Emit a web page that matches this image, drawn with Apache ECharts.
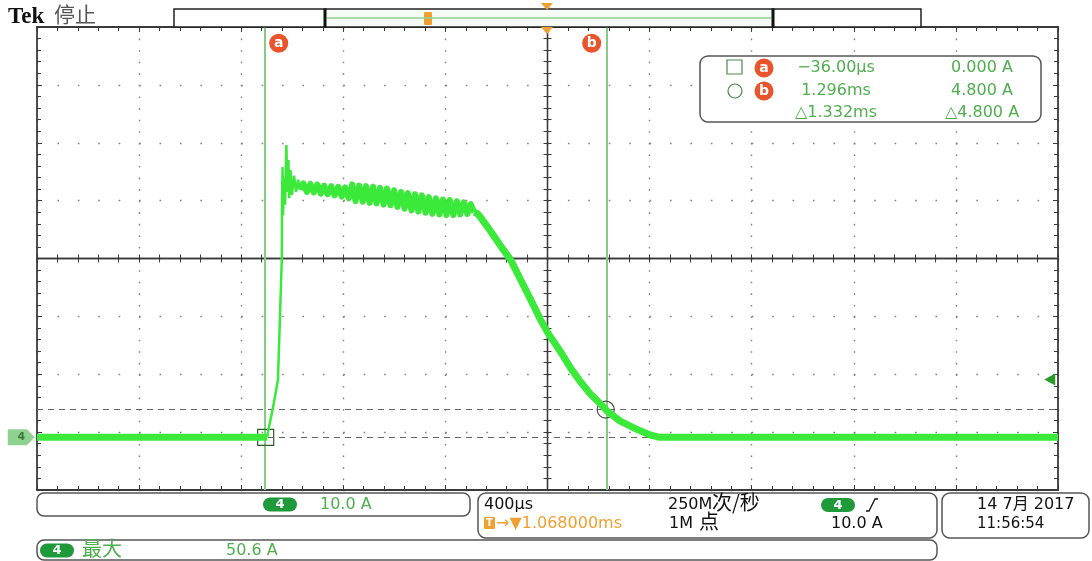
<!DOCTYPE html>
<html><head><meta charset="utf-8">
<script src="https://cdn.jsdelivr.net/npm/echarts@6/dist/echarts.min.js"></script>
<style>html,body{margin:0;padding:0;background:#fff}#c{width:1092px;height:561px}</style>
</head><body><div id="c"></div>
<script>
// ---- data (time in ms, current in A) ----
const baseTime = [-0.932, -0.030];
const baseAmp  = [0, 0];
const riseTime = [-0.030,-0.027,-0.009,0.012,0.027,0.028,0.030,0.032,0.036,0.040,0.045,0.049,0.053,0.056,0.061,0.067,0.075,0.083,0.091,0.098];
const riseAmp  = [0,0.95,4.75,9.9,30.7,40.2,46.7,38.4,44.8,40.2,50.5,42.4,47.9,41.3,46.2,41.9,45.2,42.4,44.5,42.8];
const plateauTime = [0.098,0.111,0.125,0.139,0.152,0.166,0.180,0.193,0.207,0.221,0.234,0.248,0.262,0.275,0.289,
 0.303,0.316,0.330,0.344,0.357,0.371,0.385,0.398,0.412,0.426,0.439,0.453,0.467,0.480,0.494,0.508,0.521,0.535,0.549,0.562,0.576,0.590,0.603,0.617,0.631,0.644,0.658,0.672,0.685,0.699,0.713,0.726,0.740,0.754,0.767,0.781];
const plateauAmp  = [42.8,43.9,42.4,43.8,42.3,43.7,42.1,43.5,42.0,43.4,41.8,43.3,41.6,43.2,41.3,
 43.7,40.8,43.5,40.7,43.4,40.5,43.3,40.4,43.1,40.2,43.0,40.1,42.7,39.8,42.4,39.5,42.2,39.2,42.0,39.0,41.8,38.8,41.5,38.6,41.3,38.5,41.1,38.4,41.0,38.4,40.8,38.5,40.6,38.6,40.3,38.9];
const fallTime = [0.781,0.795,0.806,0.845,0.884,0.923,0.963,1.002,1.041,1.070,1.119,1.158,1.197,1.236,1.275,1.300,1.353,1.412,1.470,1.509,3.068];
const fallAmp  = [38.9,38.6,38.0,35.6,33.1,30.7,27.2,23.8,20.3,18.0,14.8,12.0,9.6,7.5,5.8,4.6,2.8,1.5,0.4,0.0,0.0];
const cursorTimes = [-0.036, 1.296];   // ms
const cursorLevels = [0, 4.8];         // A
const triggerLevel = 10.0;             // A
const timeRange = [-0.932, 3.068];     // ms, 400 us/div, centre 1.068 ms
const ampRange = [-9.1, 70.9];         // A, 10 A/div
const readoutTime = ['\u221236.00\u00b5s', '1.296ms', '\u25b31.332ms'];
const readoutAmp = ['0.000 A', '4.800 A', '\u25b34.800 A'];
const bottomTexts = {
  vscale: '10.0 A', hscale: '400\u00b5s', trig: '\u2192\u25bc1.068000ms', rateNum: '250M', rateUnit: '\u6b21/\u79d2',
  recNum: '1M ', recUnit: '\u70b9', tlevel: '10.0 A', date: '14 7\u6708 2017', time: '11:56:54', maxLbl: '\u6700\u5927', maxVal: '50.6 A'
};

const FONT = "'DejaVu Sans','Noto Sans CJK SC',sans-serif";
const CJK = "'Noto Sans CJK SC',sans-serif";
const GTXT = '#4fae4f';
const ORANGE = '#e9542b';
const TRACE = '#3be93b';

function txt(x, y, s, size, fill, align, weight, family) {
  return {type:'text', x:x, y:y, silent:true, z:100,
    style:{text:s, font:(weight||'normal')+' '+size+'px '+(family||FONT), fill:fill,
      align:align||'left', verticalAlign:'middle', textAlign:align||'left', textVerticalAlign:'middle'}};
}
function rrect(x, y, w, h, r, stroke, fill, lw) {
  return {type:'rect', silent:true, z:90, shape:{x:x,y:y,width:w,height:h,r:r},
    style:{fill:fill||'none', stroke:stroke||'none', lineWidth:lw||1.5}};
}
function pill(cx, cy) {
  return [rrect(cx-17, cy-7, 34, 14, 7, null, '#1f9a3a'), txt(cx, cy+0.5, '4', 13, '#fff', 'center', 'bold')];
}
function badge(cx, cy, ch) {
  return [{type:'circle', silent:true, z:95, shape:{cx:cx, cy:cy, r:9.5}, style:{fill:ORANGE}},
          txt(cx, cy, ch, 14, '#fff', 'center', 'bold')];
}
function line(x1,y1,x2,y2,stroke,lw){
  return {type:'line', silent:true, z:95, shape:{x1:x1,y1:y1,x2:x2,y2:y2}, style:{stroke:stroke, lineWidth:lw}};
}

const graphics = [].concat(
  [txt(8, 17, 'Tek', 23, '#111', 'left', 'bold', "'Liberation Serif',serif"),
   txt(54, 14, '\u505c\u6b62', 21, '#555', 'left', 'normal', CJK)],
  [rrect(174, 9, 747, 18, 0, '#222', '#fff', 1.5),
   rrect(326, 10.5, 446, 15, 0, null, '#f4fbf4'),
   line(327, 18, 771, 18, '#8fd08f', 1.5),
   line(325, 8.5, 325, 27.5, '#111', 3), line(773, 8.5, 773, 27.5, '#111', 3),
   rrect(424, 12, 8, 13, 1, null, '#f0a030'),
   {type:'polygon', silent:true, z:96, shape:{points:[[541,3],[553,3],[547,10]]}, style:{fill:'#f0a030'}},
   {type:'polygon', silent:true, z:96, shape:{points:[[541,27],[553,27],[547,34]]}, style:{fill:'#f0a030'}}],
  // cursor readout
  [rrect(700, 56, 341, 66, 8, '#555', '#fff', 1.5),
   rrect(727, 60, 15, 14, 0, '#4a8a4a', 'none', 1.2),
   {type:'circle', silent:true, z:95, shape:{cx:735, cy:91, r:7}, style:{fill:'none', stroke:'#4a8a4a', lineWidth:1.2}}],
  badge(764, 68, 'a'), badge(764, 91, 'b'),
  readoutTime.map((s,i)=>txt(836, 68+i*22.5, s, 16, GTXT, 'center')),
  readoutAmp.map((s,i)=>txt(982, 68+i*22.5, s, 16, GTXT, 'center')),
  // bottom bars
  [rrect(37, 493, 433, 23, 7, '#555')], pill(280, 504.5), [txt(320, 505, bottomTexts.vscale, 16, GTXT)],
  [rrect(478, 493, 459, 45, 8, '#555'),
   txt(484, 505, bottomTexts.hscale, 16, '#111'),
   rrect(484, 517, 11, 12, 1, null, '#f0a030'),
   txt(489.5, 523.5, 'T', 10, '#fff', 'center', 'bold'),
   txt(496, 524, bottomTexts.trig, 16, '#f0a030'),
   txt(668, 505, bottomTexts.rateNum, 16, '#111'),
   txt(712, 502, bottomTexts.rateUnit, 20, '#111', 'left', 'normal', CJK),
   txt(669, 524, bottomTexts.recNum, 16, '#111'),
   txt(699, 521, bottomTexts.recUnit, 20, '#111', 'left', 'normal', CJK)],
  pill(838, 505),
  [{type:'polyline', silent:true, z:95, shape:{points:[[866,511],[869,511],[875,499],[878,499]]}, style:{stroke:'#111', lineWidth:1.3, fill:'none'}},
   txt(831, 524, bottomTexts.tlevel, 16, '#111'),
   rrect(942, 493, 147, 45, 8, '#555'),
   txt(977, 505, bottomTexts.date, 16, '#111'),
   txt(977, 524, bottomTexts.time, 15, '#111'),
   rrect(37, 540, 900, 20, 7, '#555')],
  pill(57, 550.5),
  [txt(82, 548, bottomTexts.maxLbl, 20, GTXT, 'left', 'normal', CJK), txt(226, 551, bottomTexts.maxVal, 16, GTXT)]
);

const AX = '#3a3a3a';
function divX(pos, extra) {
  return Object.assign({type:'value', min:-5, max:5, interval:1, position:pos,
    axisLabel:{show:false}, splitLine:{show:false},
    axisLine:{show:true, onZero:false, lineStyle:{color:AX, width:1.8}},
    axisTick:{show:true, inside:true, length:5, lineStyle:{color:AX}},
    minorTick:{show:true, splitNumber:5, length:4, lineStyle:{color:AX}}}, extra||{});
}
function divY(pos, extra) {
  return Object.assign({type:'value', min:-4, max:4, interval:1, position:pos,
    axisLabel:{show:false}, splitLine:{show:false},
    axisLine:{show:true, onZero:false, lineStyle:{color:AX, width:1.8}},
    axisTick:{show:true, inside:true, length:5, lineStyle:{color:AX}},
    minorTick:{show:true, splitNumber:5, length:4, lineStyle:{color:AX}}}, extra||{});
}
const centerLine = {show:true, onZero:true, onZeroAxisIndex:0, lineStyle:{color:AX, width:1.3}};
const pairs = (ts, vs) => ts.map((t,i)=>[t, vs[i]]);

const option = {
  animation:false,
  backgroundColor:'#fff',
  grid:{left:37, top:27, width:1021, height:463, show:false},
  xAxis:[
    divX('bottom', {splitLine:{show:true, lineStyle:{color:'#808080', width:1.4, type:[1.6,9.98]}}}),
    divX('top'),
    divX('bottom', {axisLine:centerLine, axisTick:{show:true, inside:true, length:4, lineStyle:{color:AX}}}),
    divX('bottom', {axisLine:centerLine, axisTick:{show:true, inside:false, length:4, lineStyle:{color:AX}}}),
    {type:'value', show:false, min:timeRange[0], max:timeRange[1], axisLine:{onZero:false}, splitLine:{show:false}}
  ],
  yAxis:[
    divY('left', {splitLine:{show:true, lineStyle:{color:'#808080', width:1.4, type:[1.6,18.82]}}}),
    divY('right'),
    divY('left', {axisLine:centerLine, axisTick:{show:true, inside:true, length:4, lineStyle:{color:AX}}}),
    divY('left', {axisLine:centerLine, axisTick:{show:true, inside:false, length:4, lineStyle:{color:AX}}}),
    {type:'value', show:false, min:ampRange[0], max:ampRange[1], axisLine:{onZero:false}, splitLine:{show:false}}
  ],
  graphic:{elements:graphics},
  series:[
  {
    name:'baseline', type:'line', xAxisIndex:4, yAxisIndex:4, showSymbol:false, silent:true, z:10,
    data: pairs(baseTime, baseAmp), lineStyle:{color:TRACE, width:7}
  },
  {
    name:'rise', type:'line', xAxisIndex:4, yAxisIndex:4, showSymbol:false, silent:true, z:10,
    data: pairs(riseTime, riseAmp), lineStyle:{color:TRACE, width:2.5}
  },
  {
    name:'plateau', type:'line', xAxisIndex:4, yAxisIndex:4, showSymbol:false, silent:true, z:10,
    data: pairs(plateauTime, plateauAmp), lineStyle:{color:TRACE, width:6, join:'round'}
  },
  {
    name:'fall', type:'line', xAxisIndex:4, yAxisIndex:4, showSymbol:false, silent:true, z:10,
    data: pairs(fallTime, fallAmp), lineStyle:{color:TRACE, width:7},
    markLine:{silent:true, symbol:'none', label:{show:false}, animation:false,
      data:[
        {xAxis:cursorTimes[0], lineStyle:{color:'#86cc86', width:2, type:'solid'}},
        {xAxis:cursorTimes[1], lineStyle:{color:'#86cc86', width:2, type:'solid'}},
        {yAxis:cursorLevels[0], lineStyle:{color:'#666', width:1.2, type:[6,5]}},
        {yAxis:cursorLevels[1], lineStyle:{color:'#666', width:1.2, type:[6,5]}}
      ]},
    markPoint:{silent:true, animation:false,
      data:[
        {coord:[cursorTimes[0], cursorLevels[0]], symbol:'rect', symbolSize:16,
          itemStyle:{color:'rgba(0,0,0,0)', borderColor:'#2f5a2f', borderWidth:1.2}, label:{show:false}},
        {coord:[cursorTimes[1], cursorLevels[1]], symbol:'circle', symbolSize:17,
          itemStyle:{color:'rgba(0,0,0,0)', borderColor:'#4a4a4a', borderWidth:1.2}, label:{show:false}},
        {coord:[cursorTimes[0], ampRange[1]-0.05], symbol:'circle', symbolSize:19, symbolOffset:[13,16],
          itemStyle:{color:ORANGE}, label:{show:true, position:'inside', formatter:'a', color:'#fff', fontWeight:'bold', fontSize:14, fontFamily:FONT}},
        {coord:[cursorTimes[1], ampRange[1]-0.05], symbol:'circle', symbolSize:19, symbolOffset:[-14,16],
          itemStyle:{color:ORANGE}, label:{show:true, position:'inside', formatter:'b', color:'#fff', fontWeight:'bold', fontSize:14, fontFamily:FONT}},
        {coord:[timeRange[1]-0.001, triggerLevel], symbol:'triangle', symbolRotate:90, symbolSize:[12,11], symbolOffset:[-8,0],
          itemStyle:{color:'#2a9a2a'}, label:{show:false}},
        {coord:[timeRange[0]+0.001, 0], symbol:'path://M0,0L17,0L24,7.5L17,15L0,15Z', symbolSize:[27,16], symbolOffset:[-16,0],
          itemStyle:{color:'#8fd18f'}, label:{show:true, position:'inside', formatter:'4', color:'#3d7a3d', fontSize:11, fontWeight:'bold', fontFamily:FONT}}
      ]}
  }]
};
const chart = echarts.init(document.getElementById('c'), null, {renderer:'canvas'});
chart.setOption(option);
</script></body></html>
